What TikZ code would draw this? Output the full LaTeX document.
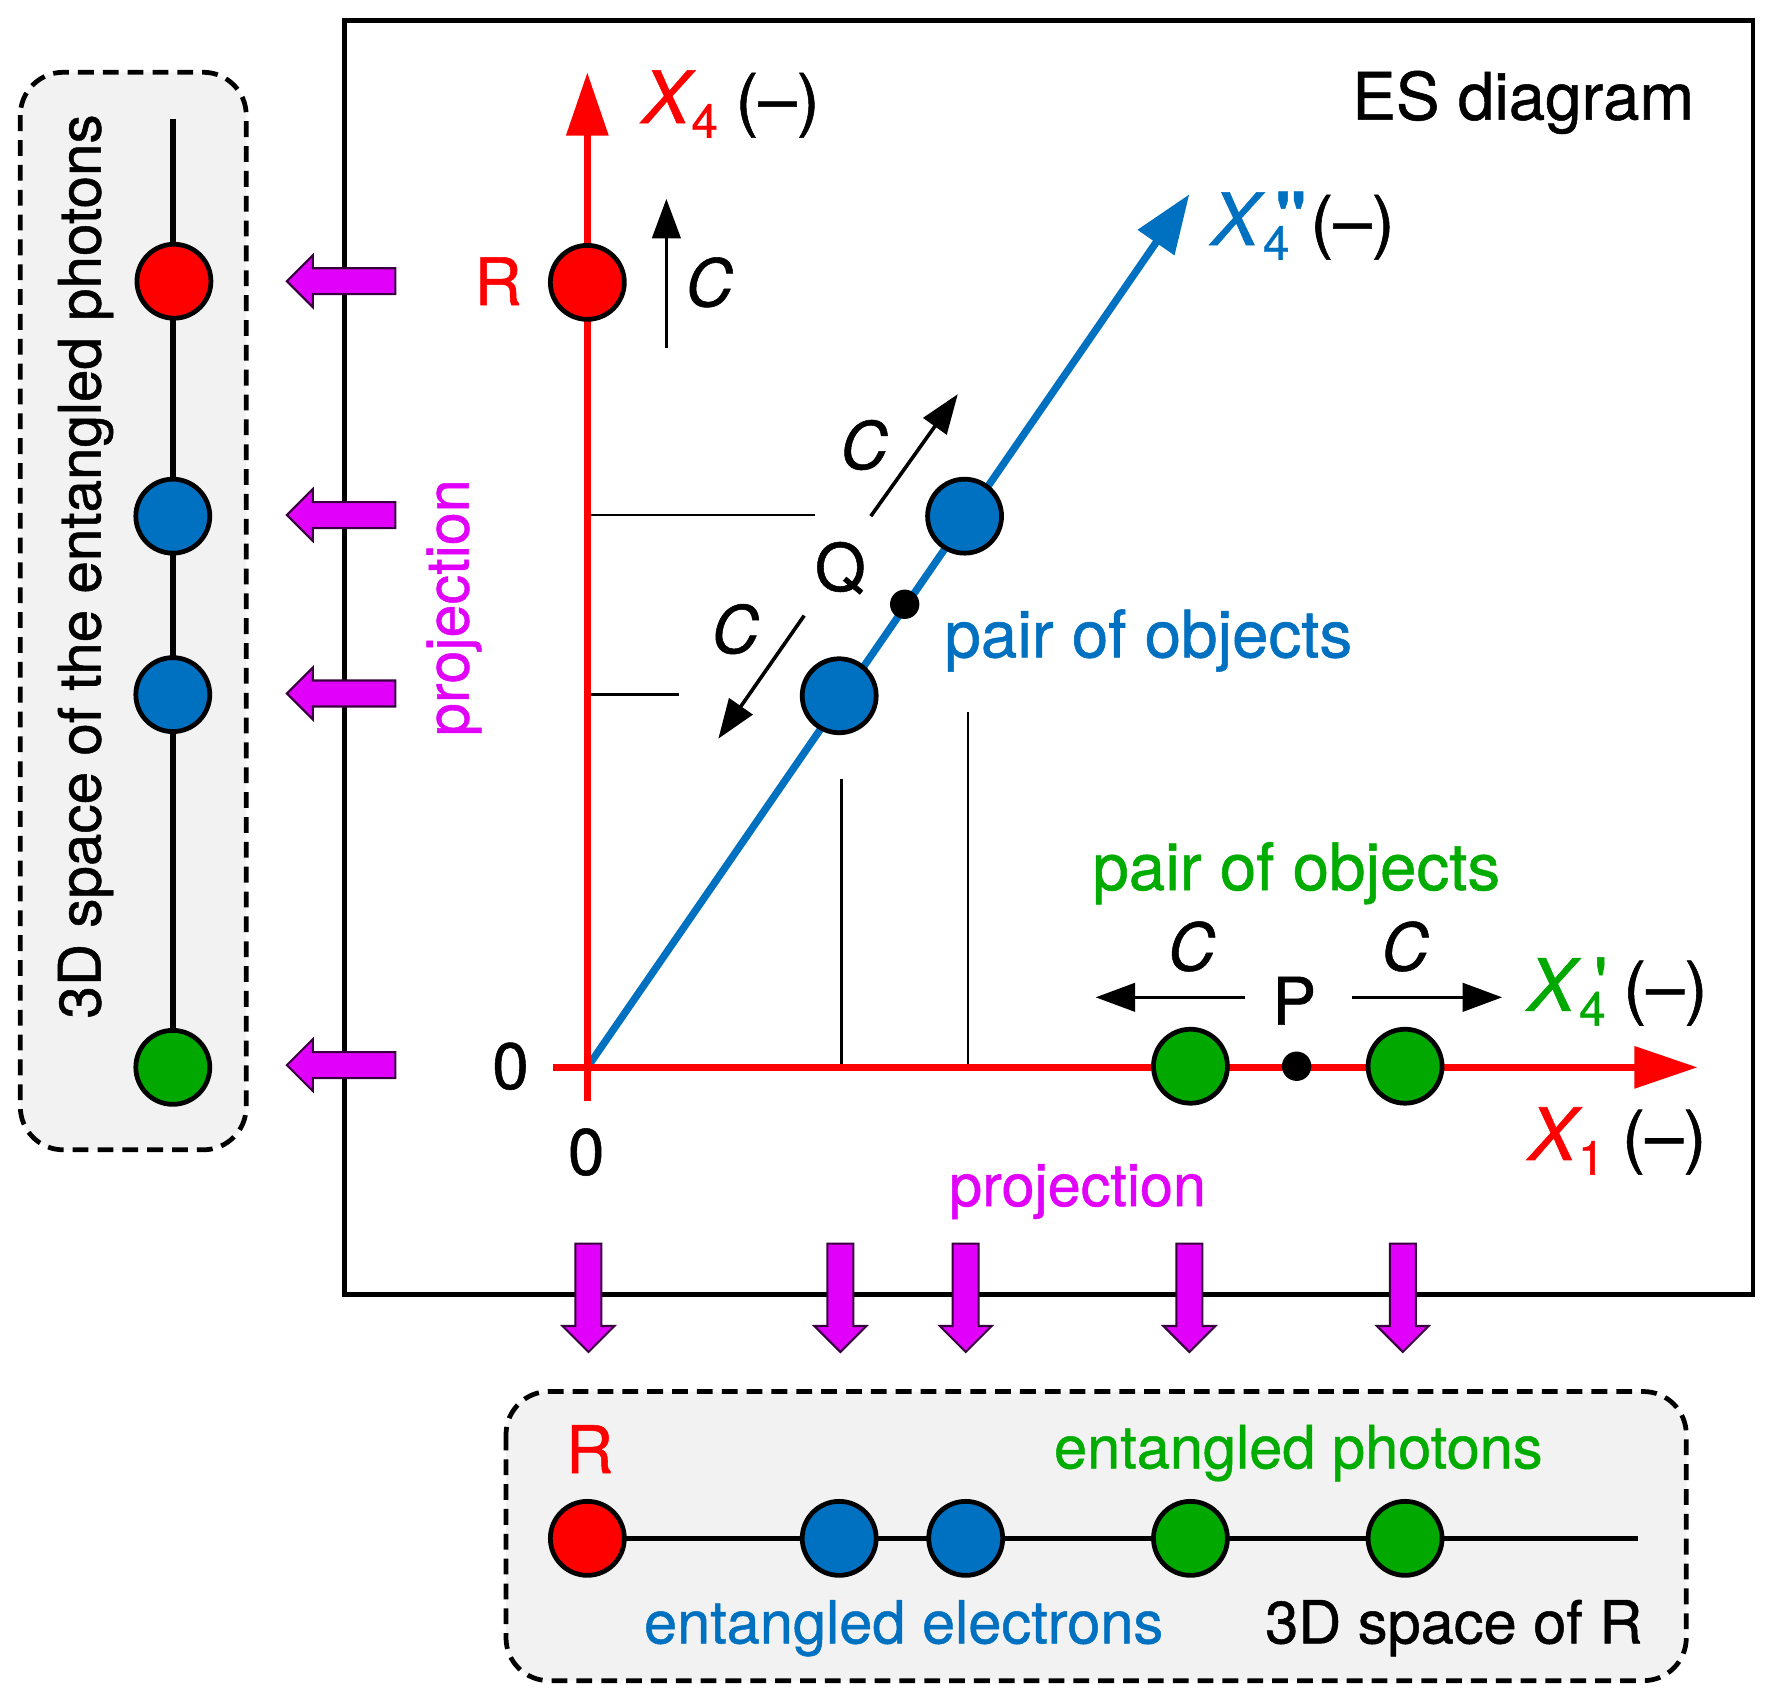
\documentclass[tikz,border=0pt]{standalone}
\usepackage{fontspec}
\setmainfont[FakeBold=0.8]{TeX Gyre Heros}
\newfontfamily\plainf[FakeBold=0.8]{TeX Gyre Heros}
\usetikzlibrary{arrows.meta}
\definecolor{cred}{HTML}{FF0000}
\definecolor{cblue}{HTML}{0070C0}
\definecolor{cgreen}{HTML}{00A800}
\definecolor{tgreen}{HTML}{00AC00}
\definecolor{cmag}{HTML}{E100FA}
\definecolor{cbox}{HTML}{F2F2F2}
\newcommand{\bigfont}{\fontsize{58}{60}\selectfont}
\newcommand{\midfont}{\fontsize{52.7}{55}\selectfont}
\newcommand{\sidefont}{\fontsize{51.7}{55}\selectfont}
\newcommand{\xfont}{\fontsize{64}{66}\selectfont}
\newcommand{\subfont}{\fontsize{42}{44}\selectfont}
\newcommand{\parfont}{\fontsize{61}{63}\selectfont}
\newcommand{\piece}[3]{\rlap{\hspace*{#1pt}\raisebox{#2pt}{#3}}}
\newcommand{\varx}{{\xfont\itshape X}}
\newcommand{\subd}[2]{\piece{#1}{-13}{\subfont #2}}
\newcommand{\unitlab}{{\parfont (–)}}
\newcommand{\harrowshape}[1]{\draw[blockarrow] (350,#1-11.5) -- (277,#1-11.5) -- (277,#1-23) -- (254,#1) -- (277,#1+23) -- (277,#1+11.5) -- (350,#1+11.5) -- cycle;}
\newcommand{\varrowshape}[1]{\draw[blockarrow] (#1-11.5,1101) -- (#1-11.5,1174) -- (#1-23,1174) -- (#1,1197) -- (#1+23,1174) -- (#1+11.5,1174) -- (#1+11.5,1101) -- cycle;}
\tikzset{
  dot/.style={circle,draw=black,line width=4.2pt,minimum size=65.5pt,inner sep=0pt},
  reddot/.style={dot,fill=cred},
  bluedot/.style={dot,fill=cblue},
  greendot/.style={dot,fill=cgreen},
  smalldot/.style={circle,fill=black,minimum size=26pt,inner sep=0pt},
  panel/.style={draw=black,fill=cbox,line width=4.2pt,rounded corners=38pt,dash pattern=on 14pt off 8pt},
  redaxis/.style={draw=cred,line width=6.5pt,-{Triangle[length=56pt,width=36pt]}},
  blueaxis/.style={draw=cblue,line width=6.5pt,-{Triangle[length=52pt,width=38pt]}},
  motion/.style={draw=black,line width=3.2pt,-{Triangle[length=35pt,width=25pt]}},
  guide/.style={draw=black,line width=2.5pt},
  track/.style={draw=black,line width=5pt},
  blockarrow/.style={draw=black!75!cmag,line width=1.8pt,fill=cmag},
  txt/.style={inner sep=0pt,font=\bigfont},
  ctxt/.style={txt,anchor=center},
  ltxt/.style={txt,anchor=base west},
  mtxt/.style={inner sep=0pt,font=\midfont,anchor=base west},
  proj/.style={inner sep=0pt,font=\fontsize{52.5}{54}\selectfont,text=cmag},
}
\begin{document}
\begin{tikzpicture}[x=1pt,y=-1pt]
\useasboundingbox (0,0) rectangle (1568,1507);
% frame
\draw[black,line width=4pt] (305,18) rectangle (1552,1146);
\node[ltxt] (es) at (1197,106) {ES diagram};
% panels
\draw[panel] (18,64) rectangle (218,1018);
\draw[panel] (448,1232) rectangle (1493,1488);
% guides
\coordinate (o) at (520,945);
\coordinate (gh1) at (523,456); \coordinate (gh1e) at (722,456);
\coordinate (gh2) at (523,615); \coordinate (gh2e) at (601,615);
\coordinate (gv1) at (745,942); \coordinate (gv1e) at (745,690);
\coordinate (gv2) at (857,942); \coordinate (gv2e) at (857,630);
\draw[guide] (gh1) -- (gh1e);
\draw[guide] (gh2) -- (gh2e);
\draw[guide] (gv1) -- (gv1e);
\draw[guide] (gv2) -- (gv2e);
% axes
\coordinate (x4s) at (520,975); \coordinate (x4e) at (520,64);
\coordinate (x1s) at (490,945); \coordinate (x1e) at (1503,945);
\coordinate (x4pe) at (1053,172);
\draw[blueaxis] (o) -- (x4pe);
\draw[redaxis] (x4s) -- (x4e);
\draw[redaxis] (x1s) -- (x1e);
% tracks
\coordinate (lt) at (153,105); \coordinate (lb) at (153,945);
\coordinate (bl) at (520,1362); \coordinate (br) at (1450,1362);
\draw[track] (lt) -- (lb);
\draw[track] (bl) -- (br);
% dots
\node[reddot] (l1) at (154,249) {};
\node[bluedot] (l2) at (153,457) {};
\node[bluedot] (l3) at (153,615) {};
\node[greendot] (l4) at (153,945) {};
\node[reddot] (r) at (520,250) {};
\node[bluedot] (q1) at (854,457) {};
\node[bluedot] (q2) at (743,616) {};
\node[greendot] (p1) at (1054,944) {};
\node[greendot] (p2) at (1244,944) {};
\node[smalldot] (q) at (801,535) {};
\node[smalldot] (p) at (1148,944) {};
\node[reddot] (b1) at (520,1362) {};
\node[bluedot] (b2) at (743,1362) {};
\node[bluedot] (b3) at (855,1362) {};
\node[greendot] (b4) at (1054,1362) {};
\node[greendot] (b5) at (1244,1362) {};
% motion arrows
\coordinate (m1s) at (590,308); \coordinate (m1e) at (590,176);
\coordinate (m2s) at (771,457); \coordinate (m2e) at (848,349);
\coordinate (m3s) at (712,545); \coordinate (m3e) at (636,654);
\coordinate (m4s) at (1102,883); \coordinate (m4e) at (970,883);
\coordinate (m5s) at (1197,883); \coordinate (m5e) at (1330,883);
\draw[motion] (m1s) -- (m1e);
\draw[motion] (m2s) -- (m2e);
\draw[motion] (m3s) -- (m3e);
\draw[motion] (m4s) -- (m4e);
\draw[motion] (m5s) -- (m5e);
% block arrows
\harrowshape{249}
\harrowshape{456}
\harrowshape{614}
\harrowshape{943}
\varrowshape{521}
\varrowshape{744}
\varrowshape{855}
\varrowshape{1053}
\varrowshape{1242}
% axis labels
\node[ltxt] (lx4) at (568,109) {\textcolor{cred}{\rlap{\varx}\subd{44}{4}}\hspace*{83pt}\unitlab};
\node[ltxt] (lx4p) at (1072,217) {\textcolor{cblue}{\rlap{\varx}\subd{46}{4}\piece{57}{5}{\plainf\bfseries"}}\hspace*{88pt}\unitlab};
\node[ltxt] (lx4g) at (1352,895) {\textcolor{cgreen}{\rlap{\varx}\subd{46}{4}\piece{59}{2}{\xfont\plainf'}}\hspace*{85pt}\unitlab};
\node[ltxt] (lx1) at (1353,1027) {\textcolor{cred}{\rlap{\varx}\subd{44}{1}}\hspace*{83pt}\unitlab};
% letters
\node[ctxt,text=cred] (lr) at (441,249) {R};
\node[ctxt,text=cred] (lr2) at (522,1283) {R};
\node[ctxt] (c1) at (628,250) {\textit{C}};
\node[ctxt] (c2) at (765,394) {\textit{C}};
\node[ctxt] (c3) at (651,557) {\textit{C}};
\node[ctxt] (c4) at (1055,838) {\textit{C}};
\node[ctxt] (c5) at (1244,838) {\textit{C}};
\node[ctxt] (lq) at (744,503) {Q};
\node[ctxt] (lp) at (1146,886) {P};
\node[ctxt] (z1) at (452,944) {0};
\node[ctxt] (z2) at (519,1020) {0};
% captions
\node[ltxt,text=cblue] (po1) at (836,582) {pair of objects};
\node[ltxt,text=tgreen] (po2) at (967,788) {pair of objects};
\node[proj,rotate=90] (pr1) at (402,538) {projection};
\node[proj] (pr2) at (954,1055) {projection};
\node[mtxt,text=tgreen] (ep) at (933,1300) {entangled photons};
\node[mtxt,text=cblue] (ee) at (570,1455) {entangled electrons};
\node[mtxt] (s3) at (1120,1455) {3D space of R};
\node[inner sep=0pt,font=\sidefont,rotate=90,anchor=base] (s3l) at (89,501.5) {3D space of the entangled photons};
\end{tikzpicture}
\end{document}
